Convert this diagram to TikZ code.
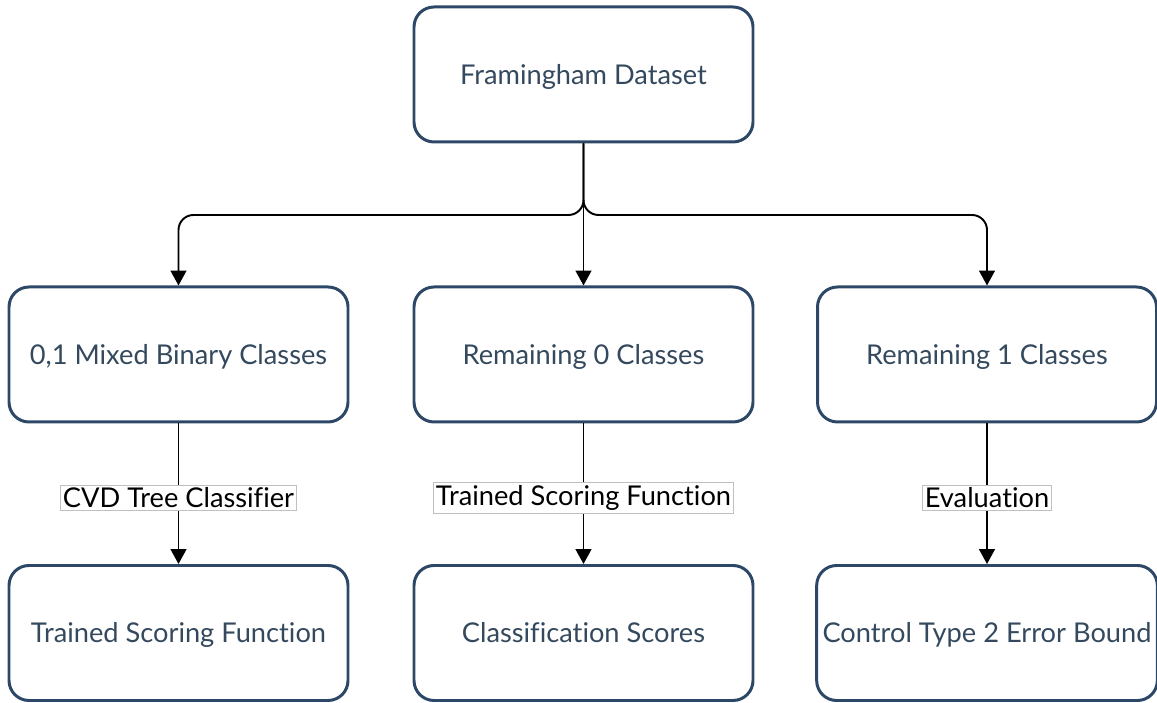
\documentclass[tikz,border=0pt]{standalone}
\usepackage{fontspec}
\setmainfont{Lato}[Ligatures=CommonOff]
\usetikzlibrary{arrows.meta}
\definecolor{boxline}{RGB}{44,72,102}
\definecolor{boxtext}{RGB}{52,73,94}
\tikzset{
    stage/.style={draw=boxline,line width=1.7pt,rounded corners=0.4cm,
        minimum width=6.78cm,minimum height=2.7cm,text=boxtext,
        text height=11pt,text depth=0pt,font=\fontsize{15.5}{18}\selectfont},
    flow/.style={line width=1.1pt,-{Triangle[width=9pt,length=8.5pt]}},
    edgelabel/.style={fill=white,draw={rgb,255:red,192;green,192;blue,192},line width=0.4pt,
        inner sep=1.5pt,font=\fontsize{15.5}{18}\selectfont}
}
\begin{document}
\begin{tikzpicture}
    \useasboundingbox (0,0) rectangle (23.14,14.06);
    \node[stage] (data) at (11.67,12.57) {Framingham Dataset};
    \node[stage] (mixed) at (3.57,6.97) {0,1 Mixed Binary Classes};
    \node[stage] (rest0) at (11.67,6.97) {Remaining 0 Classes};
    \node[stage] (rest1) at (19.74,6.97) {Remaining 1 Classes};
    \node[stage] (scorer) at (3.57,1.40) {Trained Scoring Function};
    \node[stage] (scores) at (11.67,1.40) {Classification Scores};
    \node[stage] (bound) at (19.74,1.40) {Control Type 2 Error Bound};
    \coordinate (split) at (11.67,9.76);
    % split of the data set
    \draw[flow,rounded corners=0.3cm] (data.south) -- (split) -| (mixed.north);
    \draw[flow,rounded corners=0.3cm] (data.south) -- (split) -| (rest1.north);
    \draw[flow] (data.south) -- (rest0.north);
    % second stage
    \draw[flow] (mixed.south) -- node[edgelabel,pos=0.53] {CVD Tree Classifier} (scorer.north);
    \draw[flow] (rest0.south) -- node[edgelabel,pos=0.53] {Trained Scoring Function} (scores.north);
    \draw[flow] (rest1.south) -- node[edgelabel,pos=0.53] {Evaluation} (bound.north);
\end{tikzpicture}
\end{document}
